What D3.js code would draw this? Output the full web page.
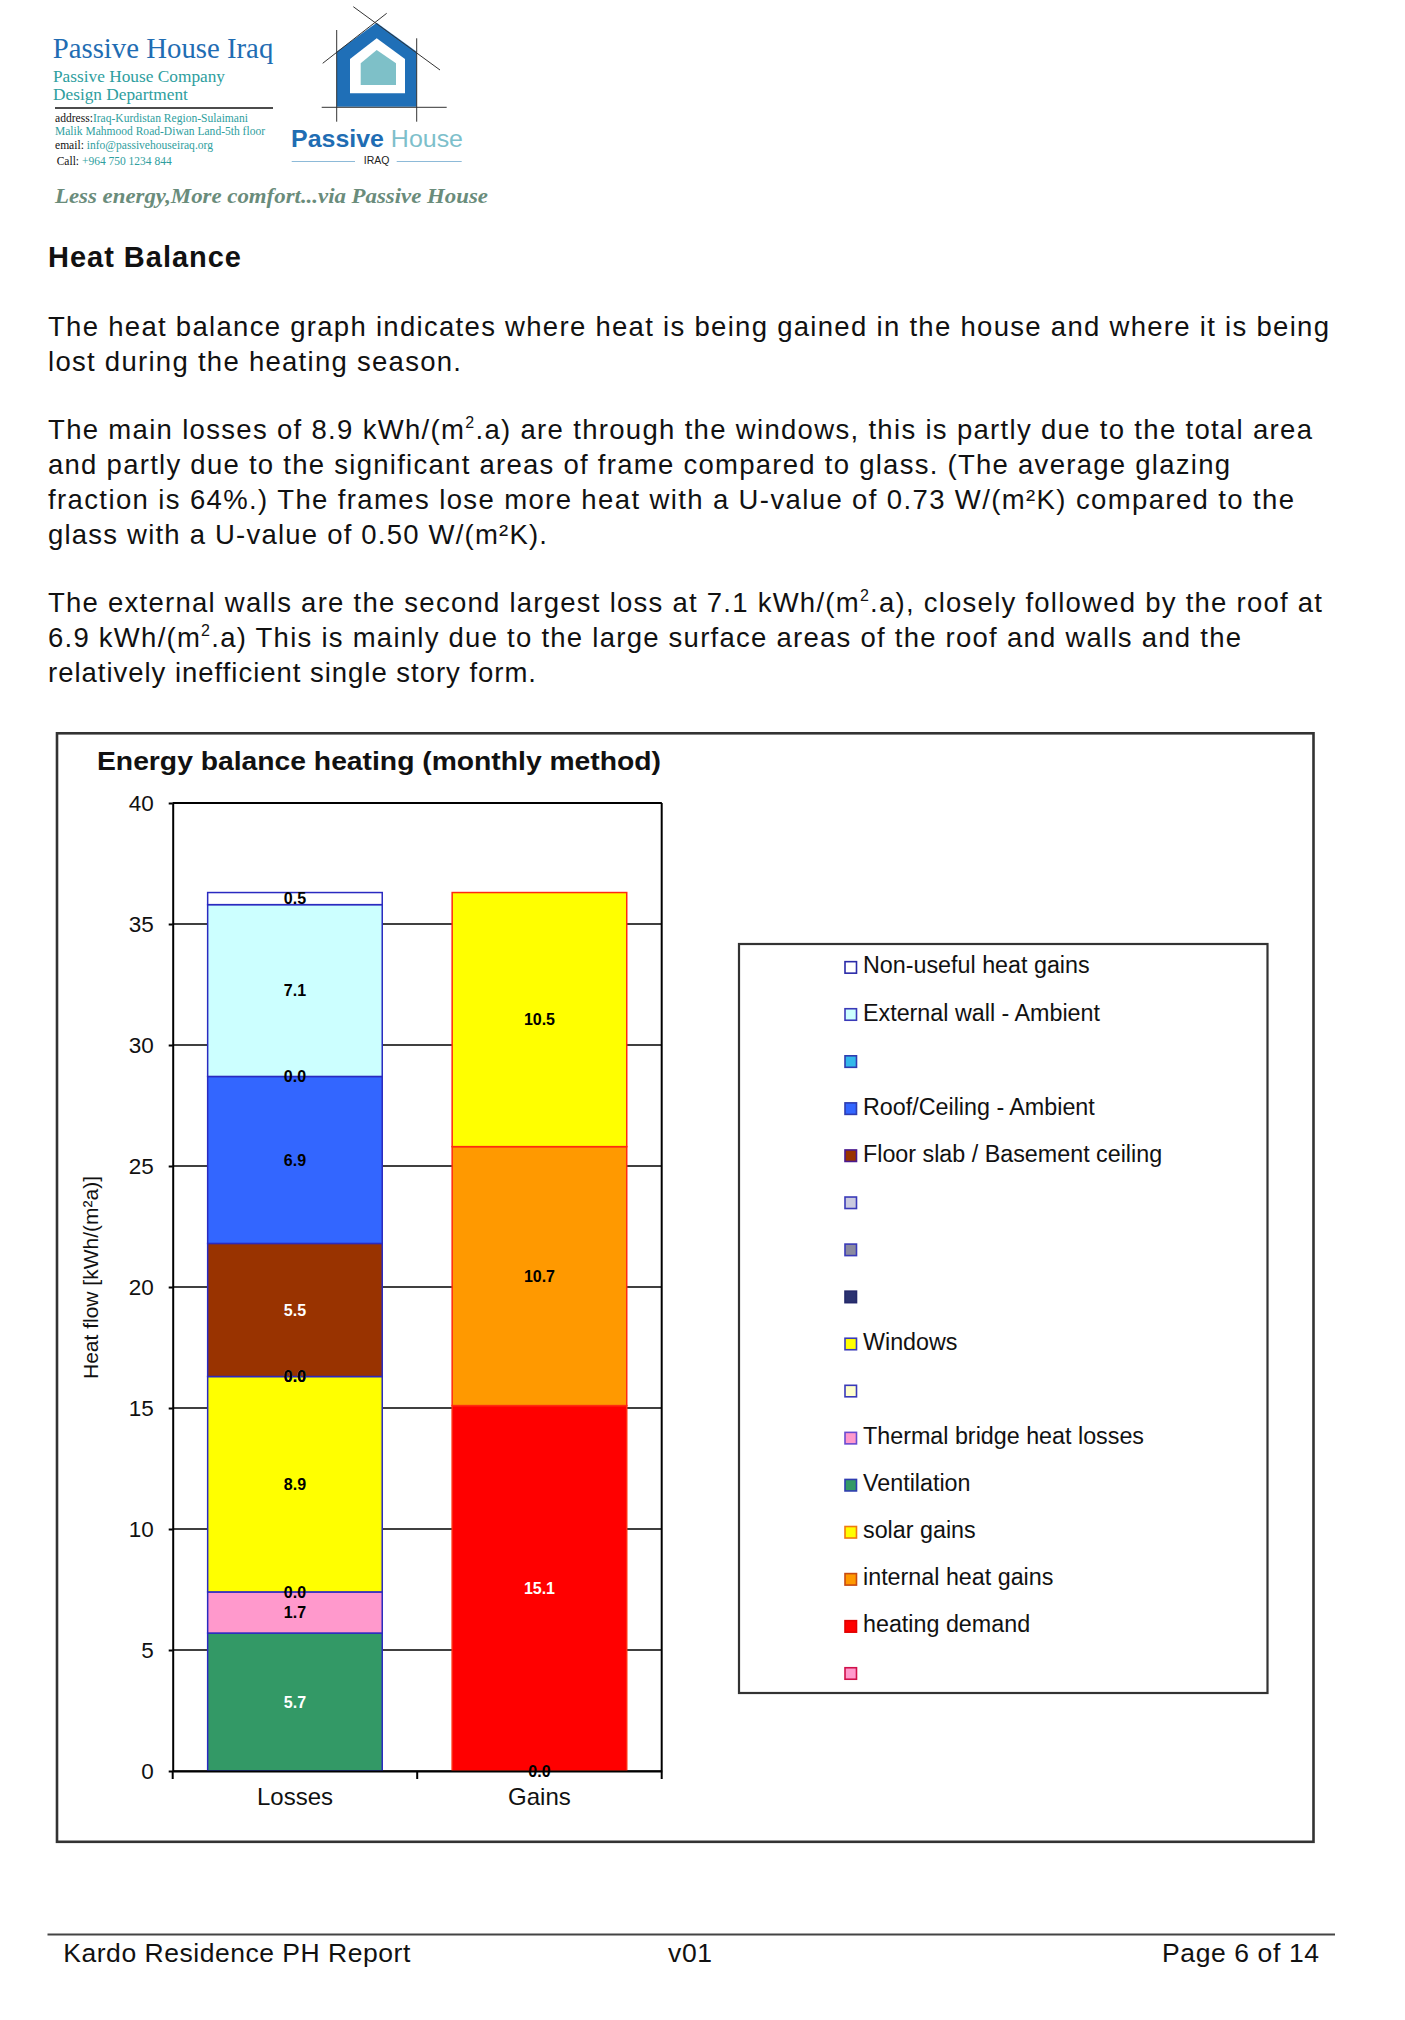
<!DOCTYPE html>
<html><head><meta charset="utf-8">
<script src="https://cdn.jsdelivr.net/npm/d3@7"></script>
<style>html,body{margin:0;padding:0;background:#fff;} svg{display:block;}</style>
</head><body>
<svg id="page" width="1405" height="2020"></svg>
<script>
// ---------- DATA ----------
const categories = ["Losses", "Gains"];
// stacking order, bottom to top (legend lists them top to bottom)
const seriesNames = ["", "heating demand", "internal heat gains", "solar gains", "Ventilation",
  "Thermal bridge heat losses", "", "Windows", "", "", "", "Floor slab / Basement ceiling",
  "Roof/Ceiling - Ambient", "", "External wall - Ambient", "Non-useful heat gains"];
const lossesValues = [null, null, null, null, 5.7, 1.7, 0.0, 8.9, 0.0, 0.0, 0.0, 5.5, 6.9, 0.0, 7.1, 0.5];
const gainsValues = [0.0, 15.1, 10.7, 10.5, null, null, null, null, null, null, null, null, null, null, null, null];
const yTicks = [0, 5, 10, 15, 20, 25, 30, 35, 40];
const yDomain = [0, 40];
const chartTitle = "Energy balance heating (monthly method)";
const yAxisTitle = "Heat flow [kWh/(m²a)]";

// ---------- STYLES ----------
const seriesFill = ["#FF99CC", "#FF0000", "#FF9900", "#FFFF00", "#339966", "#FF99CC", "#FFFFCC", "#FFFF00",
  "#2B3270", "#8A8AA0", "#CACADF", "#993300", "#3366FF", "#33B8EA", "#CCFFFF", "#FFFFFF"];
const legendStroke = ["#D0104A", "#E00000", "#C84A10", "#F07A10", "#2E3CB0", "#6A4AD0", "#3A3AB8", "#3A3AB8",
  "#24286A", "#3A3AB8", "#3A3AB8", "#4A1A90", "#2E3CB0", "#2E3CB0", "#3A3AB8", "#2A2AA8"];
const labelColor = ["#000", "#fff", "#000", "#000", "#fff", "#000", "#000", "#000",
  "#fff", "#000", "#000", "#fff", "#000", "#000", "#000", "#000"];
const barStroke = {"Losses": "#2A2AC0", "Gains": "#FF2A10"};

const SANS = "'Liberation Sans', Arial, Helvetica, sans-serif";
const SERIF = "'Liberation Serif', 'Times New Roman', serif";

const svg = d3.select("#page");
svg.append("rect").attr("width", 1405).attr("height", 2020).attr("fill", "#fff");

// ---------- HEADER ----------
const hdr = svg.append("g");
const blue = "#1F6DB3", teal = "#2E9E9E";
hdr.append("text").attr("x", 52.7).attr("y", 58.3).attr("textLength", 220.6).attr("lengthAdjust", "spacingAndGlyphs")
  .attr("font-family", SERIF).attr("font-size", 28.8).attr("fill", blue).text("Passive House Iraq");
hdr.append("text").attr("x", 53).attr("y", 81.7).attr("textLength", 172).attr("lengthAdjust", "spacingAndGlyphs")
  .attr("font-family", SERIF).attr("font-size", 17.3).attr("fill", teal).text("Passive House Company");
hdr.append("text").attr("x", 53).attr("y", 100).attr("font-family", SERIF).attr("font-size", 17.3).attr("fill", teal).text("Design Department");
hdr.append("line").attr("x1", 55).attr("x2", 273).attr("y1", 108).attr("y2", 108).attr("stroke", "#111").attr("stroke-width", 1.4);
const addrLines = [
  {y: 121.7, len: 193, parts: [["address:", "#111"], ["Iraq-Kurdistan Region-Sulaimani", teal]]},
  {y: 135, len: 210, parts: [["Malik Mahmood Road-Diwan Land-5th floor", teal]]},
  {y: 149, len: 158, parts: [["email: ", "#111"], ["info@passivehouseiraq.org", teal]]},
  {y: 165, len: 115, parts: [["Call: ", "#111"], ["+964 750 1234 844", teal]], x: 56.7}
];
addrLines.forEach(l => {
  const t = hdr.append("text").attr("x", l.x || 55).attr("y", l.y).attr("font-family", SERIF).attr("font-size", 11.5)
    .attr("textLength", l.len).attr("lengthAdjust", "spacingAndGlyphs");
  l.parts.forEach(p => t.append("tspan").attr("fill", p[1]).text(p[0]));
});
// logo
hdr.append("polygon").attr("points", "376.7,22.7 416.7,51.7 416.7,106.7 336.7,106.7 336.7,51.7").attr("fill", "#1F6FB7");
hdr.append("polygon").attr("points", "376.7,38.3 405,59 405,93.3 350,93.3 350,59").attr("fill", "#fff");
hdr.append("polygon").attr("points", "376.7,50 396,63.3 396,85 360.7,85 360.7,63.3").attr("fill", "#7EC0C8");
[[353.3, 6.7, 440, 70], [386.7, 13.3, 322.7, 63.3], [336.7, 30, 336.7, 121.7], [416.7, 38.3, 416.7, 121.7], [321.7, 107.3, 446.7, 107.3]]
  .forEach(c => hdr.append("line").attr("x1", c[0]).attr("y1", c[1]).attr("x2", c[2]).attr("y2", c[3]).attr("stroke", "#333").attr("stroke-width", 1));
const ph = hdr.append("text").attr("x", 291).attr("y", 146.5).attr("font-family", SANS).attr("font-size", 24)
  .attr("textLength", 172).attr("lengthAdjust", "spacingAndGlyphs");
ph.append("tspan").attr("font-weight", "bold").attr("fill", "#1F6DB3").text("Passive ");
ph.append("tspan").attr("fill", "#7DBFCB").text("House");
hdr.append("text").attr("x", 376.7).attr("y", 164).attr("text-anchor", "middle").attr("font-family", SANS).attr("font-size", 10.5).attr("fill", "#222").text("IRAQ");
hdr.append("line").attr("x1", 291.7).attr("x2", 355).attr("y1", 161.5).attr("y2", 161.5).attr("stroke", "#8DBAD8").attr("stroke-width", 1);
hdr.append("line").attr("x1", 396.7).attr("x2", 461.7).attr("y1", 161.5).attr("y2", 161.5).attr("stroke", "#8DBAD8").attr("stroke-width", 1);
hdr.append("text").attr("x", 55).attr("y", 203).attr("font-family", SERIF).attr("font-size", 21).attr("font-weight", "bold").attr("font-style", "italic")
  .attr("fill", "#6A8C7B").attr("textLength", 433).attr("lengthAdjust", "spacingAndGlyphs").text("Less energy,More comfort...via Passive House");

// ---------- BODY TEXT ----------
svg.append("text").attr("x", 48).attr("y", 266.5).attr("font-family", SANS).attr("font-weight", "bold").attr("font-size", 29)
  .attr("textLength", 193).attr("lengthAdjust", "spacing").attr("fill", "#111").text("Heat Balance");
const bodyLines = [
  {y: 335.5, w: 1281, s: [["The heat balance graph indicates where heat is being gained in the house and where it is being"]]},
  {y: 371, w: 413, s: [["lost during the heating season."]]},
  {y: 439.3, w: 1264, s: [["The main losses of 8.9 kWh/(m"], ["2", 1], [".a) are through the windows, this is partly due to the total area"]]},
  {y: 474.3, w: 1182, s: [["and partly due to the significant areas of frame compared to glass. (The average glazing"]]},
  {y: 509.3, w: 1246, s: [["fraction is 64%.) The frames lose more heat with a U-value of 0.73 W/(m²K) compared to the"]]},
  {y: 544.3, w: 499, s: [["glass with a U-value of 0.50 W/(m²K)."]]},
  {y: 611.7, w: 1274, s: [["The external walls are the second largest loss at 7.1 kWh/(m"], ["2", 1], [".a), closely followed by the roof at"]]},
  {y: 646.7, w: 1193, s: [["6.9 kWh/(m"], ["2", 1], [".a) This is mainly due to the large surface areas of the roof and walls and the"]]},
  {y: 681.7, w: 488, s: [["relatively inefficient single story form."]]}
];
bodyLines.forEach(l => {
  const t = svg.append("text").attr("x", 48).attr("y", l.y).attr("font-family", SANS).attr("font-size", 27.5)
    .attr("fill", "#111").attr("textLength", l.w).attr("lengthAdjust", "spacing");
  let shifted = false;
  l.s.forEach(seg => {
    const ts = t.append("tspan").text(seg[0]);
    if (seg[1]) { ts.attr("font-size", 16).attr("dy", -11); shifted = true; }
    else if (shifted) { ts.attr("dy", 11); shifted = false; }
  });
});

// ---------- CHART ----------
svg.append("rect").attr("x", 57).attr("y", 733.3).attr("width", 1256.5).attr("height", 1108.5)
  .attr("fill", "none").attr("stroke", "#333").attr("stroke-width", 2.6);
svg.append("text").attr("x", 97).attr("y", 769.5).attr("font-family", SANS).attr("font-weight", "bold").attr("font-size", 26)
  .attr("textLength", 564).attr("lengthAdjust", "spacingAndGlyphs").attr("fill", "#111").text(chartTitle);

const plot = {l: 172.7, r: 661.7, t: 803, b: 1771};
const y = d3.scaleLinear().domain(yDomain).range([plot.b, plot.t]);
const x = d3.scaleBand().domain(categories).range([plot.l, plot.r]).paddingInner(0.286).paddingOuter(0.143);

// gridlines
svg.append("g").selectAll("line").data(yTicks).join("line")
  .attr("x1", plot.l).attr("x2", plot.r).attr("y1", d => y(d)).attr("y2", d => y(d))
  .attr("stroke", "#000").attr("stroke-width", 1.6);
// right border
svg.append("line").attr("x1", plot.r).attr("x2", plot.r).attr("y1", plot.t).attr("y2", plot.b).attr("stroke", "#000").attr("stroke-width", 2);

// stacked bars
const rows = categories.map((c, ci) => {
  const vals = ci === 0 ? lossesValues : gainsValues;
  const r = {cat: c};
  seriesNames.forEach((s, i) => { r[i] = vals[i] == null ? 0 : vals[i]; });
  return r;
});
const keys = seriesNames.map((s, i) => i);
const stacked = d3.stack().keys(keys)(rows);
const barG = svg.append("g");
stacked.forEach((layer, li) => {
  layer.forEach((d, ci) => {
    const vals = ci === 0 ? lossesValues : gainsValues;
    if (vals[li] == null) return;
    const cat = categories[ci];
    barG.append("rect").attr("x", x(cat)).attr("width", x.bandwidth())
      .attr("y", y(d[1])).attr("height", Math.max(0, y(d[0]) - y(d[1])))
      .attr("fill", seriesFill[li]).attr("stroke", barStroke[cat]).attr("stroke-width", 1.5);
  });
});
// labels
const labG = svg.append("g");
stacked.forEach((layer, li) => {
  layer.forEach((d, ci) => {
    const vals = ci === 0 ? lossesValues : gainsValues;
    if (vals[li] == null) return;
    const cat = categories[ci];
    labG.append("text").attr("x", x(cat) + x.bandwidth() / 2).attr("y", (y(d[0]) + y(d[1])) / 2 + 5.6)
      .attr("text-anchor", "middle").attr("font-family", SANS).attr("font-weight", "bold").attr("font-size", 16)
      .attr("fill", labelColor[li]).text(d3.format(".1f")(vals[li]));
  });
});

// axes
const yAxis = svg.append("g").attr("transform", `translate(${plot.l},0)`)
  .call(d3.axisLeft(y).tickValues(yTicks).tickSize(4).tickSizeOuter(0).tickPadding(15).tickFormat(d3.format("d")));
yAxis.select(".domain").attr("stroke", "#000").attr("stroke-width", 2);
yAxis.selectAll(".tick line").attr("stroke", "#000").attr("stroke-width", 2);
yAxis.selectAll("text").attr("font-family", SANS).attr("font-size", 22.5).attr("fill", "#111");

const xAxis = svg.append("g").attr("transform", `translate(0,${plot.b})`)
  .call(d3.axisBottom(x).tickSize(0).tickSizeOuter(0).tickPadding(17));
xAxis.select(".domain").attr("stroke", "#000").attr("stroke-width", 2);
xAxis.selectAll("text").attr("font-family", SANS).attr("font-size", 24).attr("fill", "#111");
const boundaries = [x.range()[0], (x(categories[0]) + x.bandwidth() + x(categories[1])) / 2, x.range()[1]];
svg.append("g").selectAll("line").data(boundaries).join("line")
  .attr("x1", d => d).attr("x2", d => d).attr("y1", plot.b).attr("y2", plot.b + 8)
  .attr("stroke", "#000").attr("stroke-width", 2);
// top border
svg.append("line").attr("x1", plot.l).attr("x2", plot.r).attr("y1", plot.t).attr("y2", plot.t).attr("stroke", "#000").attr("stroke-width", 2);

svg.append("text").attr("transform", "translate(98,1277.5) rotate(-90)").attr("text-anchor", "middle")
  .attr("font-family", SANS).attr("font-size", 21).attr("fill", "#111").text(yAxisTitle);

// legend
const legBox = {x: 739, y: 944, w: 528.5, h: 749};
svg.append("rect").attr("x", legBox.x).attr("y", legBox.y).attr("width", legBox.w).attr("height", legBox.h)
  .attr("fill", "#fff").attr("stroke", "#333").attr("stroke-width", 2.2);
const legOrder = keys.slice().reverse();
const ly = d3.scalePoint().domain(legOrder).range([legBox.y, legBox.y + legBox.h]).padding(0.456);
const legG = svg.append("g").selectAll("g").data(legOrder).join("g")
  .attr("transform", d => `translate(0,${ly(d)})`);
legG.append("rect").attr("x", 845).attr("y", -3.8).attr("width", 11.5).attr("height", 11.5)
  .attr("fill", d => seriesFill[d]).attr("stroke", d => legendStroke[d]).attr("stroke-width", 1.6);
legG.append("text").attr("x", 863).attr("y", 8).attr("font-family", SANS).attr("font-size", 23.3).attr("fill", "#111")
  .text(d => seriesNames[d]);

// ---------- FOOTER ----------
svg.append("line").attr("x1", 47.5).attr("x2", 1335).attr("y1", 1934.5).attr("y2", 1934.5).attr("stroke", "#444").attr("stroke-width", 2);
[["Kardo Residence PH Report", 63.3, 347], ["v01", 668, 44], ["Page 6 of 14", 1162, 157]].forEach(f => {
  svg.append("text").attr("x", f[1]).attr("y", 1961.5).attr("font-family", SANS).attr("font-size", 26.5)
    .attr("textLength", f[2]).attr("lengthAdjust", "spacing").attr("fill", "#111").text(f[0]);
});
</script>
</body></html>
